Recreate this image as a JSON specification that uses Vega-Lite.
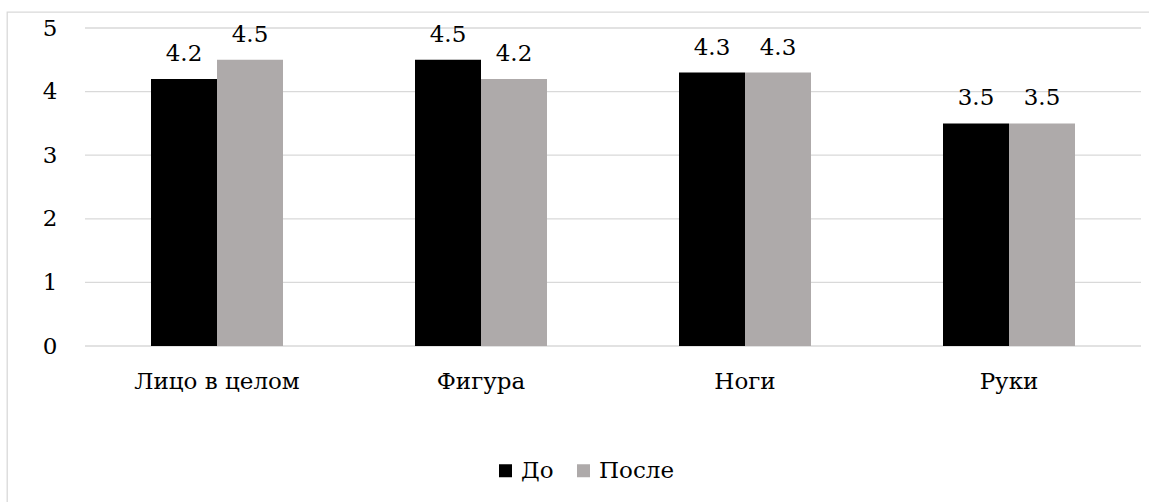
{
  "$schema": "https://vega.github.io/schema/vega-lite/v6.json",
  "width": 1145,
  "height": 496,
  "padding": {"left": 7, "top": 12, "right": 0, "bottom": 0},
  "autosize": {"type": "none"},
  "background": "white",
  "config": {
    "view": {"stroke": "#d9d9d9", "strokeWidth": 1.3},
    "font": "DejaVu Serif",
    "axis": {"labelFont": "DejaVu Serif", "labelFontSize": 23, "labelColor": "#000000", "domain": false, "ticks": false, "tickSize": 0, "grid": false, "title": null},
    "legend": {"labelFont": "DejaVu Serif", "labelFontSize": 23, "labelColor": "#000000"}
  },
  "datasets": {
    "bars": [
      {"category": "Лицо в целом", "series": "До", "value": 4.2},
      {"category": "Лицо в целом", "series": "После", "value": 4.5},
      {"category": "Фигура", "series": "До", "value": 4.5},
      {"category": "Фигура", "series": "После", "value": 4.2},
      {"category": "Ноги", "series": "До", "value": 4.3},
      {"category": "Ноги", "series": "После", "value": 4.3},
      {"category": "Руки", "series": "До", "value": 3.5},
      {"category": "Руки", "series": "После", "value": 3.5}
    ],
    "grid": [{"g": 0}, {"g": 1}, {"g": 2}, {"g": 3}, {"g": 4}, {"g": 5}]
  },
  "layer": [
    {
      "data": {"name": "grid"},
      "mark": {"type": "rule", "color": "#d9d9d9", "strokeWidth": 1.3},
      "encoding": {
        "x": {"datum": 0, "type": "quantitative", "scale": {"domain": [0, 1], "range": [78, 1134]}, "axis": null},
        "x2": {"datum": 1},
        "y": {"field": "g", "type": "quantitative", "scale": {"domain": [0, 5], "range": [334, 16], "nice": false, "zero": true},
              "axis": {"values": [0, 1, 2, 3, 4, 5], "format": "d", "offset": -50, "labelPadding": 0, "title": null}}
      }
    },
    {
      "data": {"name": "bars"},
      "encoding": {
        "x": {"field": "category", "type": "nominal", "sort": ["Лицо в целом", "Фигура", "Ноги", "Руки"],
              "scale": {"range": [78, 1134], "paddingInner": 0, "paddingOuter": 0},
              "axis": {"labelAngle": 0, "offset": -159, "labelPadding": 21, "title": null}},
        "xOffset": {"field": "series", "type": "nominal", "sort": ["До", "После"], "scale": {"paddingOuter": 1.08, "paddingInner": 0}},
        "y": {"field": "value", "type": "quantitative", "title": null}
      },
      "layer": [
        {
          "mark": {"type": "bar"},
          "encoding": {
            "color": {"field": "series", "type": "nominal", "sort": ["До", "После"],
                      "scale": {"domain": ["До", "После"], "range": ["#000000", "#AEAAAA"]},
                      "legend": {"title": null, "orient": "none", "direction": "horizontal", "legendX": 487, "legendY": 447,
                                 "symbolType": "square", "symbolSize": 169, "symbolStrokeWidth": 0, "labelOffset": 4, "columnPadding": 18, "padding": 0}}
          }
        },
        {
          "mark": {"type": "text", "baseline": "alphabetic", "dy": -18, "fontSize": 23, "font": "DejaVu Serif", "color": "#000000"},
          "encoding": {"text": {"field": "value", "type": "quantitative", "format": ".1f"}}
        }
      ]
    }
  ],
  "resolve": {"scale": {"x": "independent"}}
}
